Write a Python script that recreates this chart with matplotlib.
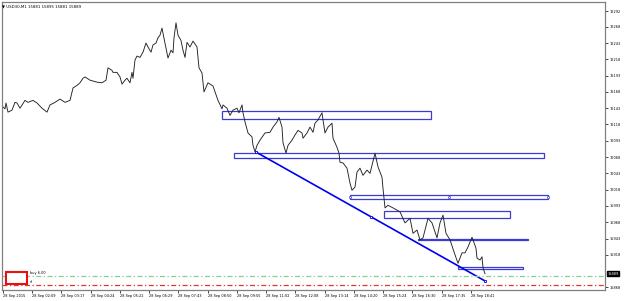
"""MT4-style intraday chart: USD30 M1 with support/resistance boxes."""

import matplotlib

matplotlib.use("Agg")
from matplotlib import pyplot as plt  # noqa: E402
from matplotlib.patches import Rectangle  # noqa: E402

# --- data -------------------------------------------------------------------
title = "USD30,M1 15881 15895 15881 15889"

# chart column (screen bar position) and close price
bar_pos = [
    3, 5, 6, 8, 12, 15, 17, 20, 25, 28, 33, 37, 42, 47, 50, 55, 60, 65, 70, 73,
    77, 80, 83, 85, 90, 97, 102, 106, 108, 112, 113, 117, 120, 122, 125, 127,
    130, 132, 133, 135, 137, 140, 143, 146, 148, 151, 153, 156, 158, 160, 162,
    163, 165, 168, 171, 173, 174, 176, 178, 181, 183, 185, 187, 190, 193, 197,
    199, 202, 204, 208, 213, 218, 222, 223, 227, 230, 233, 237, 239, 242, 243,
    245, 248, 252, 253, 255, 257, 260, 265, 270, 273, 277, 279, 282, 283, 286,
    288, 292, 295, 298, 302, 303, 307, 310, 313, 315, 318, 322, 323, 325, 328,
    332, 333, 337, 339, 340, 343, 347, 350, 352, 355, 357, 360, 363, 367, 370,
    375, 378, 382, 383, 385, 388, 393, 400, 405, 410, 413, 417, 420, 423, 428,
    432, 437, 440, 443, 446, 450, 455, 458, 462, 465, 468, 472, 473, 476, 477,
    480, 482, 483, 485,
]
close = [
    16145, 16142, 16151, 16137, 16140, 16152, 16151, 16143, 16155, 16152,
    16155, 16151, 16143, 16137, 16148, 16152, 16157, 16152, 16155, 16174,
    16178, 16182, 16189, 16191, 16186, 16183, 16182, 16186, 16205, 16201,
    16198, 16198, 16191, 16180, 16186, 16189, 16182, 16198, 16189, 16217,
    16223, 16221, 16229, 16243, 16237, 16229, 16240, 16243, 16251, 16255,
    16266, 16258, 16243, 16220, 16232, 16228, 16251, 16274, 16255, 16247,
    16232, 16221, 16244, 16237, 16246, 16237, 16205, 16197, 16168, 16182,
    16177, 16155, 16142, 16148, 16143, 16132, 16140, 16143, 16136, 16148,
    16136, 16122, 16105, 16099, 16086, 16076, 16086, 16094, 16105, 16106,
    16114, 16122, 16129, 16114, 16090, 16074, 16086, 16094, 16102, 16109,
    16105, 16097, 16105, 16114, 16106, 16120, 16125, 16136, 16125, 16105,
    16114, 16120, 16097, 16083, 16074, 16060, 16059, 16051, 16028, 16017,
    16022, 16045, 16051, 16040, 16048, 16043, 16074, 16053, 16037, 16020,
    15990, 15994, 15990, 15984, 15967, 15974, 15951, 15956, 15941, 15944,
    15974, 15967, 15944, 15967, 15979, 15951, 15941, 15918, 15905, 15921,
    15921, 15930, 15945, 15941, 15928, 15913, 15910, 15915, 15898, 15889,
]
last_close = 15889

# rectangles: left/right column, low/high price
box_left = [222, 234, 350, 384, 418, 458]
box_right = [431, 544, 548, 510, 528, 523]
box_low = [16126, 16066.5, 16003.2, 15975.0, 15941.5, 15895.7]
box_high = [16139, 16074.2, 16009.8, 15985.2, 15943.0, 15899.8]
selected_box = 2

trend_pos = [256, 485]
trend_price = [16075.7, 15877.9]

buy_level = 15886
sl_level = 15871.7

price_ticks = [
    16292, 16268, 16243, 16218, 16193, 16168, 16143, 16118, 16093,
    16068, 16043, 16018, 15993, 15968, 15943, 15918, 15868,
]
time_labels = [
    "28 Sep 2015", "28 Sep 02:09", "28 Sep 03:17", "28 Sep 04:24",
    "28 Sep 05:22", "28 Sep 06:29", "28 Sep 07:43", "28 Sep 08:50",
    "28 Sep 09:55", "28 Sep 11:02", "28 Sep 12:08", "28 Sep 13:14",
    "28 Sep 14:20", "28 Sep 15:24", "28 Sep 16:30", "28 Sep 17:35",
    "28 Sep 18:41",
]

# --- figure -------------------------------------------------------------------
W, H = 625, 301
fig = plt.figure(figsize=(W / 100, H / 100), dpi=100)
ax = fig.add_axes([2 / W, 11 / H, 603 / W, 288 / H])

ax.plot(bar_pos, close, color="#222222", lw=0.65)

box_color = "#3c3cd4"
for i, (l, r, lo, hi) in enumerate(zip(box_left, box_right, box_low, box_high)):
    ax.add_patch(Rectangle((l, lo), r - l, hi - lo, fill=False,
                           edgecolor=box_color, lw=0.9))
    if i == selected_box:
        mid = (lo + hi) / 2
        ax.plot([l, (l + r) / 2, r], [mid] * 3, ls="none", marker="o", ms=1.6,
                mfc="white", mec=box_color, mew=0.5)

ax.plot(trend_pos, trend_price, color="#0000f0", lw=1.2)
ax.plot([trend_pos[0], sum(trend_pos) / 2, trend_pos[1]],
        [trend_price[0], sum(trend_price) / 2, trend_price[1]],
        ls="none", marker="s", ms=1.6, mfc="white", mec="#0000f0", mew=0.6)

ax.axhline(buy_level, color="#8ccc8c", lw=0.9, ls=(0, (4, 2, 1, 2)))
ax.axhline(sl_level, color="#e03535", lw=0.9, ls=(0, (4, 2, 1, 2)))
ax.text(30, buy_level + 1, "buy 6.00", fontsize=2.5, va="bottom", ha="left")
ax.text(30, sl_level + 1.5, "sl", fontsize=2.5, va="bottom", ha="left")

ax.set_xlim(2, 605)
ax.set_ylim(15864, 16306)

ax.yaxis.tick_right()
ax.set_yticks(price_ticks)
ax.set_yticklabels([str(v) for v in price_ticks], fontsize=2.5)
ax.tick_params(axis="y", length=2, width=0.5, pad=1.5)

tick_cols = [2.7 + 29.27 * i for i in range(len(time_labels))]
ax.set_xticks(tick_cols)
ax.set_xticklabels(time_labels, fontsize=2.5)
for lbl in ax.get_xticklabels():
    lbl.set_horizontalalignment("left")
ax.tick_params(axis="x", length=2, width=0.5, pad=1.2)

for side in ax.spines.values():
    side.set_color("#808080")
    side.set_linewidth(0.9)

ax.text(1.004, last_close, str(last_close), transform=ax.get_yaxis_transform(),
        fontsize=2.5, color="white", va="center", ha="left",
        bbox=dict(boxstyle="square,pad=0.15", fc="black", ec="black"))

fig.text(2.5 / W, 1 - 6 / H, "\u25bc " + title, fontsize=2.8, va="center")
fig.add_artist(Rectangle((6 / W, 1 - 284 / H), 21 / W, 12 / H,
                         transform=fig.transFigure, facecolor="white",
                         edgecolor="#e81010", lw=1.5))

fig.savefig("out.png", dpi=100)
